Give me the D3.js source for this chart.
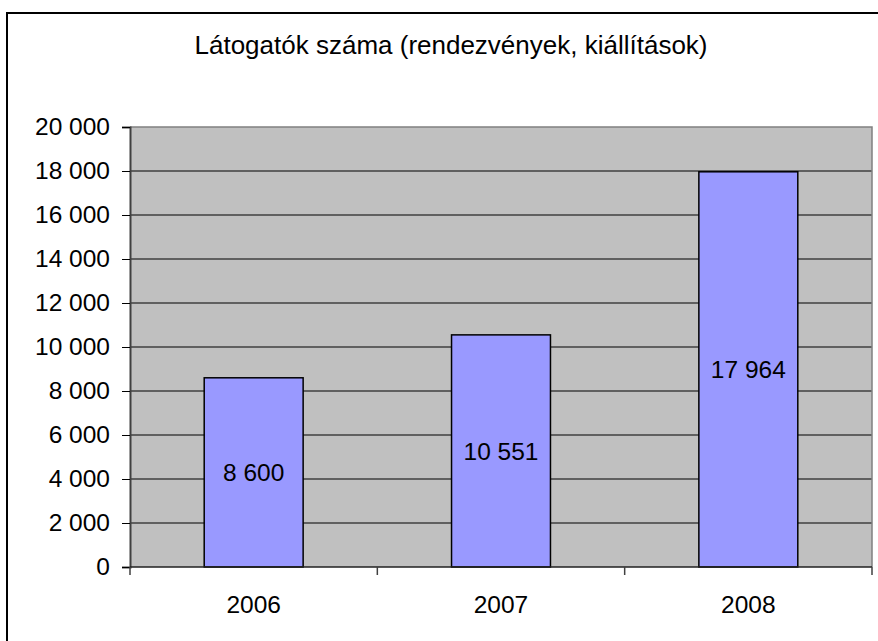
<!DOCTYPE html>
<html>
<head>
<meta charset="utf-8">
<script src="https://cdn.jsdelivr.net/npm/d3@7"></script>
<style>
  body { margin: 0; background: #fff; }
  svg { display: block; font-family: "Liberation Sans", Arial, sans-serif; }
</style>
</head>
<body>
<svg width="878" height="641"></svg>
<script>
'use strict';

const years = ['2006', '2007', '2008'];
const visitors = [8600, 10551, 17964];
const yTicks = [0, 2000, 4000, 6000, 8000, 10000, 12000, 14000, 16000, 18000, 20000];
const title = 'Látogatók száma (rendezvények, kiállítások)';

const svg = d3.select('svg');
const plot = {left: 130, top: 127, right: 872, bottom: 567};
const fontSize = 24.5;

// number format with space as thousands separator
const fmt = d3.formatLocale({decimal: ',', thousands: '\u00a0', grouping: [3], currency: ['', '']}).format(',d');

// outer chart border (right and bottom sit outside the picture)
svg.append('rect')
    .attr('x', 7).attr('y', 13)
    .attr('width', 900).attr('height', 700)
    .attr('fill', '#fff')
    .attr('stroke', '#000')
    .attr('stroke-width', 2);

svg.append('text')
    .attr('x', 451).attr('y', 54)
    .attr('text-anchor', 'middle')
    .attr('font-size', 26)
    .text(title);

const x = d3.scaleBand()
    .domain(years)
    .range([plot.left, plot.right])
    .paddingInner(0.6)
    .paddingOuter(0.3);

const y = d3.scaleLinear()
    .domain([0, 20000])
    .range([plot.bottom, plot.top]);

svg.append('rect')
    .attr('x', plot.left).attr('y', plot.top)
    .attr('width', plot.right - plot.left)
    .attr('height', plot.bottom - plot.top)
    .attr('fill', '#c0c0c0');

// gridlines
svg.append('g')
  .selectAll('line')
  .data(yTicks.filter(d => d > 0 && d < 20000))
  .join('line')
    .attr('x1', plot.left).attr('x2', plot.right)
    .attr('y1', d => y(d)).attr('y2', d => y(d))
    .attr('stroke', '#000')
    .attr('stroke-width', 1);

// plot border top and right
svg.append('path')
    .attr('d', `M${plot.left},${plot.top}H${plot.right}V${plot.bottom}`)
    .attr('fill', 'none')
    .attr('stroke', '#808080')
    .attr('stroke-width', 1.5);

// bars
svg.append('g')
  .selectAll('rect')
  .data(visitors)
  .join('rect')
    .attr('x', (d, i) => x(years[i]))
    .attr('y', d => y(d))
    .attr('width', x.bandwidth())
    .attr('height', d => y(0) - y(d))
    .attr('fill', '#9999ff')
    .attr('stroke', '#000')
    .attr('stroke-width', 1.5);

svg.append('g')
  .selectAll('text')
  .data(visitors)
  .join('text')
    .attr('x', (d, i) => x(years[i]) + x.bandwidth() / 2)
    .attr('y', d => (y(d) + y(0)) / 2)
    .attr('dy', '0.35em')
    .attr('text-anchor', 'middle')
    .attr('font-size', fontSize)
    .text(d => fmt(d));

// y axis
const yAxis = svg.append('g')
    .attr('transform', `translate(${plot.left},0)`)
    .call(d3.axisLeft(y).tickValues(yTicks).tickSize(8).tickPadding(12).tickFormat(fmt));
yAxis.select('.domain').attr('stroke', '#404040').attr('stroke-width', 2);
yAxis.selectAll('.tick line').attr('stroke', '#000');
yAxis.selectAll('.tick text').attr('font-size', fontSize).attr('fill', '#000')
    .attr('font-family', '"Liberation Sans", Arial, sans-serif');

// x axis: ticks at category boundaries
const bounds = [plot.left].concat(years.map(d => x(d) + x.bandwidth() + x.step() * 0.3));
svg.append('line')
    .attr('x1', plot.left).attr('x2', plot.right)
    .attr('y1', plot.bottom).attr('y2', plot.bottom)
    .attr('stroke', '#202020')
    .attr('stroke-width', 1.5);
svg.append('g')
  .selectAll('line')
  .data(bounds)
  .join('line')
    .attr('x1', d => d).attr('x2', d => d)
    .attr('y1', plot.bottom).attr('y2', plot.bottom + 8)
    .attr('stroke', '#404040')
    .attr('stroke-width', 1.5);
svg.append('g')
  .selectAll('text')
  .data(years)
  .join('text')
    .attr('x', d => x(d) + x.bandwidth() / 2)
    .attr('y', 613)
    .attr('text-anchor', 'middle')
    .attr('font-size', fontSize)
    .text(d => d);
</script>
</body>
</html>
